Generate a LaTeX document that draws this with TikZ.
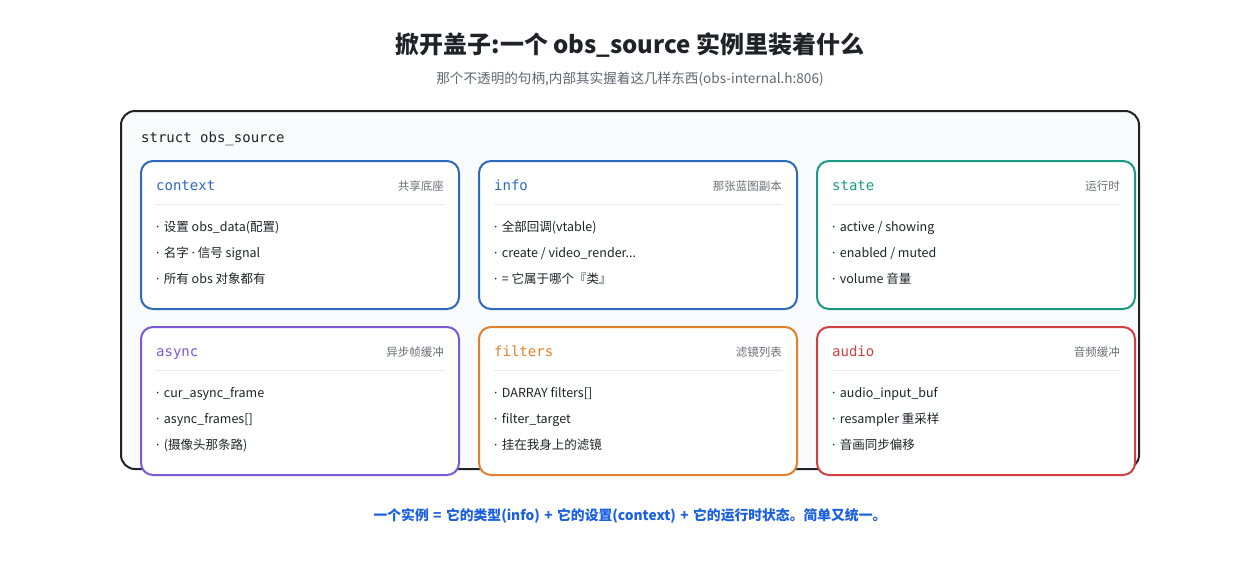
\documentclass[tikz,border=0pt]{standalone}
\usepackage{fontspec}
\setmainfont{Noto Sans CJK SC}
\newfontfamily\latinf{Noto Sans}
\setmonofont{DejaVu Sans Mono}
\definecolor{ink}{HTML}{1F2328}
\definecolor{sub}{HTML}{5F6670}
\definecolor{cblue}{HTML}{2E69BC}
\definecolor{cteal}{HTML}{1A9A82}
\definecolor{cpurp}{HTML}{7D58D8}
\definecolor{corng}{HTML}{E0802A}
\definecolor{cred}{HTML}{D23F3F}
\definecolor{bgpanel}{HTML}{F8FAFC}
\definecolor{sepc}{HTML}{E8EAED}
\definecolor{noteblue}{HTML}{1A5FE0}
\definecolor{tagc}{HTML}{6A6F76}
\newcommand\md{{\latinf ·}}
\newcommand\wsp{\hspace{0.32em}}
\newcommand\mycard[9]{%
  \draw[cardbox=#3] (#1,#2) rectangle ++(318,148);
  \node[cardtitle=#3] (t#4) at (#1+15,#2+29) {#5};
  \node[cardtag] (g#4) at (#1+303,#2+29.5) {#6};
  \draw[sepline] (#1+15,#2+43) -- (#1+303,#2+43);
  \node[carditem] (a#4) at (#1+15,#2+70.5) {\md\hspace{0.35em}#7};
  \node[carditem] (b#4) at (#1+15,#2+96.5) {\md\hspace{0.35em}#8};
  \node[carditem] (c#4) at (#1+15,#2+122.5) {\md\hspace{0.35em}#9};
}
\begin{document}
\begin{tikzpicture}[x=1pt,y=-1pt,
  outerbox/.style={draw=ink,line width=2pt,fill=bgpanel,rounded corners=14pt},
  cardbox/.style={draw=#1,line width=2pt,fill=white,rounded corners=12pt},
  cardtitle/.style={anchor=base west,inner sep=0pt,font=\ttfamily\fontsize{14}{16}\selectfont,text=#1},
  cardtag/.style={anchor=base east,inner sep=0pt,font=\fontsize{11.5}{13}\selectfont,text=tagc},
  carditem/.style={anchor=base west,inner sep=0pt,font=\fontsize{12.5}{15}\selectfont,text=ink},
  sepline/.style={draw=sepc,line width=1pt}]
\useasboundingbox (0,0) rectangle (1260,560);
\node[inner sep=0pt,text=ink,font=\bfseries\fontsize{24}{28}\selectfont] (title) at (630,45) {掀开盖子:一个 obs\_source 实例里装着什么};
\node[inner sep=0pt,text=sub,font=\fontsize{13.6}{16}\selectfont] (subtitle) at (630,79) {那个不透明的句柄,内部其实握着这几样东西(obs-internal.h:806)};
\draw[outerbox] (121,111) rectangle (1139,469);
\node[anchor=base west,inner sep=0pt,text=ink,font=\ttfamily\fontsize{14}{16}\selectfont] (struct) at (141,142.5) {struct obs\_source};
\mycard{141}{161}{cblue}{1}{context}{共享底座}{设置 obs\_data(配置)}{名字 \md\ 信号 signal}{所有 obs 对象都有}
\mycard{479}{161}{cblue}{2}{info}{那张蓝图副本}{全部回调(vtable)}{create / video\_render...}{= 它属于哪个『类』}
\mycard{817}{161}{cteal}{3}{state}{运行时}{active / showing}{enabled / muted}{volume 音量}
\mycard{141}{327}{cpurp}{4}{async}{异步帧缓冲}{cur\_async\_frame}{async\_frames[]}{(摄像头那条路)}
\mycard{479}{327}{corng}{5}{filters}{滤镜列表}{DARRAY filters[]}{filter\_target}{挂在我身上的滤镜}
\mycard{817}{327}{cred}{6}{audio}{音频缓冲}{audio\_input\_buf}{resampler 重采样}{音画同步偏移}
\node[inner sep=0pt,text=noteblue,font=\bfseries\fontsize{13.8}{16}\selectfont] (note) at (630,516) {一个实例\wsp{}=\wsp{}它的类型(info)\wsp{}+\wsp{}它的设置(context)\wsp{}+\wsp{}它的运行时状态。简单又统一。};
\end{tikzpicture}
\end{document}
